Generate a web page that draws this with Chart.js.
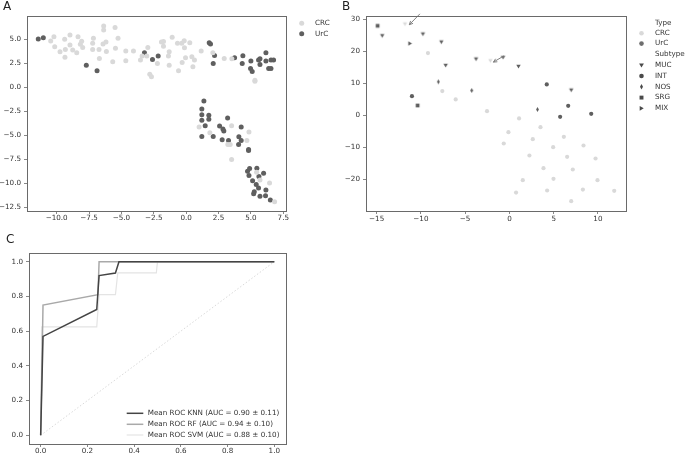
<!DOCTYPE html>
<html>
<head>
<meta charset="utf-8">
<script src="https://cdn.jsdelivr.net/npm/chart.js@4"></script>
<style>
  body { margin: 0; background: #fff; width: 685px; height: 456px; overflow: hidden; position: relative; font-family: 'DejaVu Sans', sans-serif; }
  canvas { position: absolute; }
  .tag { position: absolute; font-size: 12px; line-height: 12px; color: #222; }
</style>
</head>
<body>
<canvas id="chartA" width="342" height="228" style="left:0;top:0"></canvas>
<canvas id="chartB" width="343" height="228" style="left:342px;top:0"></canvas>
<canvas id="chartC" width="342" height="228" style="left:0;top:228px"></canvas>
<div class="tag" style="left:3px;top:0">A</div>
<div class="tag" style="left:342px;top:0">B</div>
<div class="tag" style="left:6px;top:233px">C</div>
<script>
// --- panel A : embedding of all samples, by type ---
const crcA = [
  [-10.46, 4.83], [-10.21, 5.28], [-10.15, 4.23], [-9.74, 3.71], [-9.38, 5.0], [-9.33, 3.95], [-9.36, 3.12],
  [-8.97, 5.45], [-8.97, 4.41], [-8.76, 3.88], [-8.45, 3.6], [-8.35, 5.28], [-8.17, 4.48], [-8.07, 4.79],
  [-7.99, 4.16], [-7.22, 4.58], [-7.16, 5.1], [-7.22, 3.95], [-6.73, 3.95], [-6.7, 3.01], [-6.42, 4.51],
  [-6.37, 5.98], [-6.37, 6.4], [-6.19, 4.72], [-6.16, 3.74], [-5.49, 6.22], [-5.46, 4.06], [-5.67, 2.66],
  [-5.26, 5.1], [-4.66, 3.78], [-4.66, 2.77], [-4.07, 3.78], [-3.53, 2.84], [-3.4, 3.25], [-3.04, 3.25],
  [-2.96, 4.16], [-2.81, 1.37], [-2.68, 1.09], [-2.22, 2.49], [-1.91, 4.72], [-1.75, 4.76], [-1.75, 4.27],
  [-1.37, 3.25], [-1.31, 3.71], [-1.31, 2.31], [-1.08, 5.21], [-0.67, 4.58], [-0.59, 1.72], [-0.34, 4.58],
  [-0.31, 2.59], [-0.15, 4.86], [-0.13, 4.13], [-0.05, 3.08], [0.28, 4.65], [0.44, 3.18], [0.52, 2.14],
  [0.64, 2.84], [1.16, 3.78], [2.06, 3.6], [2.94, 3.01], [3.53, 2.98], [5.31, 0.74], [5.31, 0.64],
  [1.0, -4.14], [1.83, -4.74], [3.22, -5.96], [3.4, -5.96], [3.51, -4.0], [3.51, -7.53], [4.85, -4.67],
  [4.69, -5.54], [5.44, -8.86], [5.7, -9.66], [6.44, -9.97], [6.83, -11.93]
];
const urcA = [
  [-11.42, 5.03], [-11.03, 5.17], [-7.71, 2.31], [-6.88, 1.72], [-3.22, 3.6], [-2.6, 2.9], [-2.16, 3.25],
  [1.78, 4.65], [1.88, 4.51], [2.19, 3.32], [2.09, 2.49], [3.74, 3.08], [4.38, 3.29], [4.33, 2.49],
  [5.0, 2.73], [4.97, 1.96], [5.1, 1.65], [5.59, 2.84], [5.7, 2.98], [5.7, 2.38], [6.16, 3.6], [6.16, 2.73],
  [6.37, 1.96], [6.55, 1.96], [6.55, 2.84], [6.75, 2.84],
  [1.37, -1.42], [1.21, -2.26], [1.21, -2.85], [1.21, -3.44], [1.75, -2.92], [1.75, -3.34], [1.47, -4.0],
  [1.21, -5.12], [2.09, -5.12], [2.58, -4.04], [2.84, -4.35], [2.91, -4.56], [3.2, -3.2], [2.78, -5.47],
  [3.27, -5.54], [4.07, -5.16], [4.25, -5.54], [4.05, -5.96], [4.25, -4.14], [4.82, -6.49], [4.82, -6.59],
  [4.74, -8.75], [4.9, -8.47], [4.85, -9.2], [5.13, -9.73], [5.46, -8.44], [5.62, -9.3], [5.98, -8.96],
  [5.41, -10.12], [5.59, -10.5], [5.26, -10.89], [5.21, -11.1], [5.7, -11.35], [6.16, -10.7], [6.13, -11.3],
  [6.5, -11.74]
];
const xTicksA = [-10, -7.5, -5, -2.5, 0, 2.5, 5, 7.5];
const yTicksA = [-12.5, -10, -7.5, -5, -2.5, 0, 2.5, 5];

// --- panel B : mucinous subset, type + subtype ---
const crcB = [
  [-9.2, 19.42], [-7.58, 7.52], [-6.07, 4.91], [-2.53, 1.25], [1.09, -1.04], [-0.11, -5.32], [-0.64, -8.87],
  [3.51, -3.76], [2.64, -7.52], [6.15, -6.78], [4.94, -10.02], [8.37, -9.5], [2.26, -12.63], [6.52, -13.05],
  [9.73, -13.57], [3.85, -16.6], [7.16, -17.01], [4.98, -19.94], [1.51, -20.35], [9.95, -20.35],
  [0.75, -24.22], [4.26, -23.59], [8.3, -23.28], [11.84, -23.7], [6.98, -26.93]
];
const crcMucB = [[-11.8, 28.5], [-2.15, 17.0]];
const urcMucB = [[-14.37, 24.84], [-9.77, 25.37], [-7.69, 22.86], [-7.2, 15.55], [-3.77, 17.54], [-0.72, 18.06], [1.02, 15.24], [6.98, 7.83]];
const urcIntB = [[-11.01, 5.95], [4.22, 9.6], [6.64, 2.92], [5.73, -0.52], [9.24, 0.42]];
const urcNosB = [[-8.03, 10.44], [-4.26, 7.72], [3.17, 1.77]];
const urcSrgB = [[-14.89, 27.97], [-10.37, 3.03]];
const urcMixB = [[-11.24, 22.44]];
// arrows pointing at the two CRC mucinous samples: [tailX, tailY, headX, headY]
const arrowsB = [[-10.11, 31.7, -11.31, 28.3], [-0.6, 18.58, -1.81, 16.6]];
const xTicksB = [-15, -10, -5, 0, 5, 10];
const yTicksB = [-20, -10, 0, 10, 20, 30];

// --- panel C : mean ROC curves ---
const knnFpr = [0, 0.01, 0.24, 0.25, 0.32, 0.335, 1];
const knnTpr = [0, 0.57, 0.725, 0.92, 0.935, 1, 1];
const rfFpr = [0, 0.01, 0.245, 0.25, 1];
const rfTpr = [0, 0.75, 0.81, 1, 1];
const svmFpr = [0, 0.005, 0.24, 0.25, 0.32, 0.33, 0.495, 0.5, 1];
const svmTpr = [0, 0.625, 0.625, 0.81, 0.81, 0.935, 0.935, 1, 1];
const rocLabels = ['Mean ROC KNN (AUC = 0.90 \u00b1 0.11)', 'Mean ROC RF (AUC = 0.94 \u00b1 0.10)', 'Mean ROC SVM (AUC = 0.88 \u00b1 0.10)'];
const ticksC = [0, 0.2, 0.4, 0.6, 0.8, 1.0];

const FONT = "'DejaVu Sans', sans-serif";
const FSIZE = 7.2;
const TEXT = '#333';
const SPINE = '#6a6a6a';
const LIGHT = '#d9d9d9';
const DARK = '#5f5f5f';
const MARK = '#4a4a4a';

const pts = arr => arr.map(p => ({x: p[0], y: p[1]}));
const xy = (xs, ys) => xs.map((x, i) => ({x: x, y: ys[i]}));

function fmtNum(v, d) {
  const s = d ? v.toFixed(d) : String(v);
  return s.replace('-', '\u2212');
}

function axis(min, max, ticks, digits, size, isX, pad) {
  return {
    type: 'linear', min: min, max: max,
    afterBuildTicks: s => { s.ticks = ticks.map(v => ({value: v})); },
    afterFit: s => { if (isX) s.height = size; else s.width = size; },
    grid: {drawOnChartArea: false, drawTicks: true, tickLength: 3, color: SPINE, lineWidth: 0.8},
    border: {display: false},
    ticks: {
      font: {family: FONT, size: FSIZE}, color: TEXT, padding: pad, autoSkip: false, maxRotation: 0,
      callback: v => fmtNum(v, digits)
    }
  };
}

// small marker drawer, used for the points of B and all the hand drawn legends
function drawMarker(ctx, shape, x, y, r, color) {
  ctx.save();
  ctx.fillStyle = color;
  ctx.beginPath();
  if (shape === 'circle') {
    ctx.arc(x, y, r, 0, Math.PI * 2);
  } else if (shape === 'triDown') {
    ctx.moveTo(x - r, y - r * 0.75); ctx.lineTo(x + r, y - r * 0.75); ctx.lineTo(x, y + r * 0.95);
  } else if (shape === 'triRight') {
    ctx.moveTo(x - r * 0.75, y - r); ctx.lineTo(x - r * 0.75, y + r); ctx.lineTo(x + r * 0.95, y);
  } else if (shape === 'square') {
    ctx.rect(x - r * 0.85, y - r * 0.85, r * 1.7, r * 1.7);
  } else if (shape === 'thinDiamond') {
    ctx.moveTo(x, y - r); ctx.lineTo(x + r * 0.55, y); ctx.lineTo(x, y + r); ctx.lineTo(x - r * 0.55, y);
  }
  ctx.closePath();
  ctx.fill();
  ctx.restore();
}

function markerCanvas(shape, color, r) {
  const c = document.createElement('canvas');
  const s = Math.ceil(r * 2 + 2);
  c.width = s; c.height = s;
  drawMarker(c.getContext('2d'), shape, s / 2, s / 2, r, color);
  return c;
}

function legendText(ctx, txt, x, y) {
  ctx.save();
  ctx.font = FSIZE + 'px ' + FONT;
  ctx.fillStyle = TEXT;
  ctx.textBaseline = 'middle';
  ctx.textAlign = 'left';
  ctx.fillText(txt, x, y);
  ctx.restore();
}

const frame = {
  id: 'frame',
  afterDraw(chart) {
    const a = chart.chartArea, ctx = chart.ctx;
    ctx.save();
    ctx.strokeStyle = SPINE;
    ctx.lineWidth = 1;
    ctx.strokeRect(Math.round(a.left) + 0.5, Math.round(a.top) + 0.5, Math.round(a.right - a.left), Math.round(a.bottom - a.top));
    ctx.restore();
  }
};

const common = {
  responsive: false,
  animation: false,
  events: [],
  plugins: {legend: {display: false}, tooltip: {enabled: false}}
};

// ---------------- A ----------------
new Chart(document.getElementById('chartA'), {
  type: 'scatter',
  data: {
    datasets: [
      {label: 'CRC', data: pts(crcA), backgroundColor: LIGHT, pointRadius: 2.5, borderWidth: 0},
      {label: 'UrC', data: pts(urcA), backgroundColor: DARK, pointRadius: 2.5, borderWidth: 0}
    ]
  },
  options: Object.assign({}, common, {
    layout: {padding: {left: 0, top: 16, right: 56, bottom: 0}},
    scales: {
      x: axis(-12.29, 7.71, xTicksA, 1, 17, true, 0),
      y: axis(-12.89, 7.43, yTicksA, 1, 27, false, 3)
    }
  }),
  plugins: [frame, {
    id: 'legendA',
    afterDraw(chart) {
      const ctx = chart.ctx;
      drawMarker(ctx, 'circle', 301.7, 23.3, 2.5, LIGHT);
      legendText(ctx, 'CRC', 315, 23.3);
      drawMarker(ctx, 'circle', 301.7, 33.7, 2.5, DARK);
      legendText(ctx, 'UrC', 315, 33.7);
    }
  }]
});

// ---------------- B ----------------
const mk = (shape, color, r) => markerCanvas(shape, color, r);
new Chart(document.getElementById('chartB'), {
  type: 'scatter',
  data: {
    datasets: [
      {data: pts(crcB), pointStyle: 'circle', pointRadius: 2.1, backgroundColor: LIGHT, borderWidth: 0},
      {data: pts(crcMucB), pointStyle: mk('triDown', LIGHT, 2.2)},
      {data: pts(urcMucB), pointStyle: mk('triDown', DARK, 2.2)},
      {data: pts(urcIntB), pointStyle: 'circle', pointRadius: 2.1, backgroundColor: DARK, borderWidth: 0},
      {data: pts(urcNosB), pointStyle: mk('thinDiamond', DARK, 2.5)},
      {data: pts(urcSrgB), pointStyle: mk('square', DARK, 2.2)},
      {data: pts(urcMixB), pointStyle: mk('triRight', DARK, 2.2)}
    ]
  },
  options: Object.assign({}, common, {
    layout: {padding: {left: 0, top: 16, right: 59, bottom: 0}},
    scales: {
      x: axis(-16.2, 13.17, xTicksB, 0, 17, true, 1),
      y: axis(-30.0, 31.03, yTicksB, 0, 24, false, 3)
    }
  }),
  plugins: [frame, {
    id: 'arrowsB',
    afterDatasetsDraw(chart) {
      const sx = chart.scales.x, sy = chart.scales.y, ctx = chart.ctx;
      ctx.save();
      ctx.strokeStyle = '#808080';
      ctx.lineWidth = 1;
      arrowsB.forEach(a => {
        const x0 = sx.getPixelForValue(a[0]), y0 = sy.getPixelForValue(a[1]);
        const x1 = sx.getPixelForValue(a[2]), y1 = sy.getPixelForValue(a[3]);
        const ang = Math.atan2(y1 - y0, x1 - x0), h = 4;
        ctx.beginPath();
        ctx.moveTo(x0, y0); ctx.lineTo(x1, y1);
        ctx.moveTo(x1 - h * Math.cos(ang - 0.45), y1 - h * Math.sin(ang - 0.45));
        ctx.lineTo(x1, y1);
        ctx.lineTo(x1 - h * Math.cos(ang + 0.45), y1 - h * Math.sin(ang + 0.45));
        ctx.stroke();
      });
      ctx.restore();
    }
  }, {
    id: 'legendB',
    afterDraw(chart) {
      const ctx = chart.ctx, mx = 299.5, tx = 313;
      legendText(ctx, 'Type', tx, 22.7);
      drawMarker(ctx, 'circle', mx, 33.3, 2.3, LIGHT); legendText(ctx, 'CRC', tx, 33.3);
      drawMarker(ctx, 'circle', mx, 43.6, 2.3, '#6e6e6e'); legendText(ctx, 'UrC', tx, 43.6);
      legendText(ctx, 'Subtype', tx, 54.4);
      drawMarker(ctx, 'triDown', mx, 65.2, 2.4, MARK); legendText(ctx, 'MUC', tx, 65.2);
      drawMarker(ctx, 'circle', mx, 76, 2.3, MARK); legendText(ctx, 'INT', tx, 76);
      drawMarker(ctx, 'thinDiamond', mx, 86.8, 2.7, MARK); legendText(ctx, 'NOS', tx, 86.8);
      drawMarker(ctx, 'square', mx, 97.6, 2.3, MARK); legendText(ctx, 'SRG', tx, 97.6);
      drawMarker(ctx, 'triRight', mx, 108.3, 2.4, MARK); legendText(ctx, 'MIX', tx, 108.3);
    }
  }]
});

// ---------------- C ----------------
const rocColors = ['#444444', '#a9a9a9', '#e4e4e4'];
const rocWidths = [1.5, 1.5, 1.2];
new Chart(document.getElementById('chartC'), {
  type: 'scatter',
  data: {
    datasets: [
      {data: xy(knnFpr, knnTpr), showLine: true, borderColor: rocColors[0], borderWidth: rocWidths[0], pointRadius: 0, fill: false, order: 1},
      {data: xy(rfFpr, rfTpr), showLine: true, borderColor: rocColors[1], borderWidth: rocWidths[1], pointRadius: 0, fill: false, order: 2},
      {data: xy(svmFpr, svmTpr), showLine: true, borderColor: rocColors[2], borderWidth: rocWidths[2], pointRadius: 0, fill: false, order: 3},
      {data: [{x: 0, y: 0}, {x: 1, y: 1}], showLine: true, borderColor: '#cfcfcf', borderWidth: 0.8, borderDash: [1.5, 2], pointRadius: 0, fill: false, order: 4}
    ]
  },
  options: Object.assign({}, common, {
    layout: {padding: {left: 0, top: 25, right: 56, bottom: 0}},
    scales: {
      x: axis(-0.05, 1.05, ticksC, 1, 12, true, 0),
      y: axis(-0.05, 1.05, ticksC, 1, 29, false, 3)
    }
  }),
  plugins: [frame, {
    id: 'legendC',
    afterDraw(chart) {
      const ctx = chart.ctx, ys = [185.3, 196.3, 207];
      rocLabels.forEach((lab, i) => {
        ctx.save();
        ctx.strokeStyle = rocColors[i];
        ctx.lineWidth = rocWidths[i];
        ctx.beginPath();
        ctx.moveTo(126.7, ys[i]); ctx.lineTo(143.3, ys[i]);
        ctx.stroke();
        ctx.restore();
        legendText(ctx, lab, 147.7, ys[i]);
      });
    }
  }]
});
</script>
</body>
</html>
